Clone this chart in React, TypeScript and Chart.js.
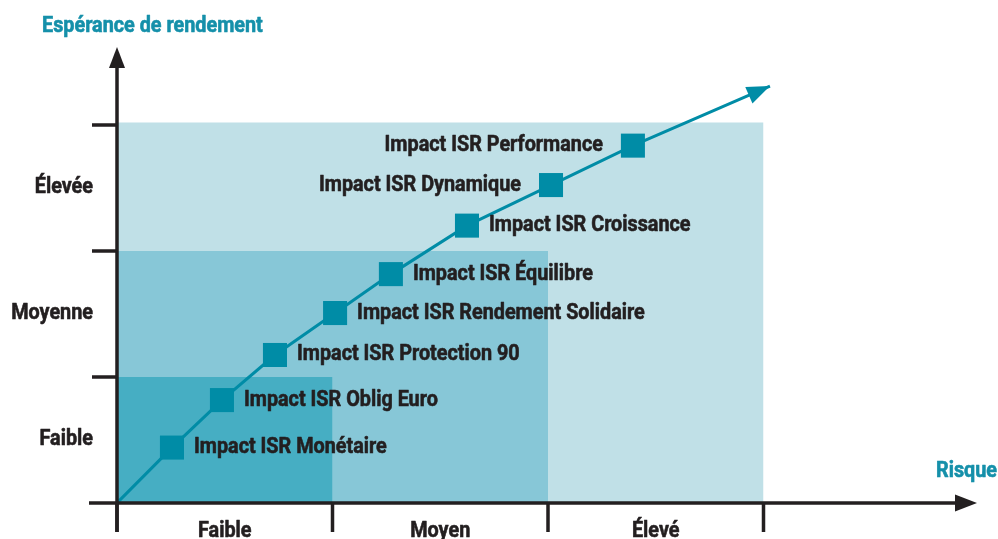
import { useEffect, useRef } from "react";
import { Chart, registerables } from "chart.js";

Chart.register(...registerables);

// ---- Data ----
const fundNames = [
  "Impact ISR Monétaire",
  "Impact ISR Oblig Euro",
  "Impact ISR Protection 90",
  "Impact ISR Rendement Solidaire",
  "Impact ISR Équilibre",
  "Impact ISR Croissance",
  "Impact ISR Dynamique",
  "Impact ISR Performance",
];
const riskValues = [0.255, 0.487, 0.733, 1.012, 1.271, 1.624, 2.014, 2.394];
const returnValues = [0.44, 0.817, 1.175, 1.508, 1.817, 2.202, 2.524, 2.837];
const labelSides = ["right", "right", "right", "right", "right", "right", "left", "left"];
const trendStart = { x: 0, y: 0 };
const trendEnd = { x: 3.03, y: 3.31 };

const riskCategories = ["Faible", "Moyen", "Élevé"];
const returnCategories = ["Faible", "Moyenne", "Élevée"];
const zoneRisk = [1, 2, 3];
const zoneReturn = [1, 2, 3.02];

const xAxisTitle = "Risque";
const yAxisTitle = "Espérance de rendement";

// ---- Styles ----
const TEAL = "#008ca6";
const TITLE_TEAL = "#1590aa";
const DARK = "#231f20";
const zoneColors = ["#46aec3", "#87c7d7", "#c0e0e7"];
const FONT = 'Roboto, "Noto Sans", sans-serif';
const SX = 0.9; // horizontal condensing of the text

function condensedText(
  ctx: CanvasRenderingContext2D,
  text: string,
  x: number,
  y: number,
  align: "left" | "right" | "center"
) {
  ctx.save();
  ctx.translate(x, y);
  ctx.scale(SX, 1);
  ctx.textAlign = align;
  ctx.strokeStyle = ctx.fillStyle as string;
  ctx.lineWidth = 0.6;
  ctx.lineJoin = "round";
  ctx.fillText(text, 0, 0);
  ctx.strokeText(text, 0, 0);
  ctx.restore();
}

const overlayPlugin = {
  id: "overlay",
  afterDatasetsDraw(chart: any) {
    const ctx = chart.ctx as CanvasRenderingContext2D;
    const xs = chart.scales.x;
    const ys = chart.scales.y;
    const x0 = xs.getPixelForValue(0);
    const y0 = ys.getPixelForValue(0);
    const xRight = xs.getPixelForValue(xs.max);
    const yTop = ys.getPixelForValue(ys.max);

    // trend arrow head
    const meta = chart.getDatasetMeta(0);
    const pts = meta.data;
    const pEnd = pts[pts.length - 1];
    const pPrev = pts[pts.length - 2];
    const ang = Math.atan2(pEnd.y - pPrev.y, pEnd.x - pPrev.x);
    ctx.save();
    ctx.fillStyle = TEAL;
    ctx.translate(pEnd.x, pEnd.y);
    ctx.rotate(ang);
    ctx.beginPath();
    ctx.moveTo(0, 0);
    ctx.lineTo(-23, -9);
    ctx.lineTo(-23, 9);
    ctx.closePath();
    ctx.fill();
    ctx.restore();

    // axes
    ctx.save();
    ctx.strokeStyle = DARK;
    ctx.fillStyle = DARK;
    ctx.lineWidth = 3.5;
    ctx.lineCap = "butt";
    ctx.beginPath();
    ctx.moveTo(x0 - 28, y0);
    ctx.lineTo(xRight - 20, y0);
    ctx.moveTo(x0, y0 + 29);
    ctx.lineTo(x0, yTop + 20);
    ctx.stroke();
    ctx.beginPath();
    ctx.moveTo(xRight - 2, y0);
    ctx.lineTo(xRight - 24, y0 - 8.5);
    ctx.lineTo(xRight - 24, y0 + 8.5);
    ctx.closePath();
    ctx.fill();
    ctx.beginPath();
    ctx.moveTo(x0, yTop);
    ctx.lineTo(x0 - 8, yTop + 21);
    ctx.lineTo(x0 + 8, yTop + 21);
    ctx.closePath();
    ctx.fill();
    ctx.beginPath();
    for (let i = 0; i <= riskCategories.length; i++) {
      const px = xs.getPixelForValue(i);
      ctx.moveTo(px, y0);
      ctx.lineTo(px, y0 + 29);
    }
    for (let i = 1; i <= returnCategories.length; i++) {
      const py = ys.getPixelForValue(i);
      ctx.moveTo(x0, py);
      ctx.lineTo(x0 - 25, py);
    }
    ctx.stroke();

    // category labels
    ctx.font = `bold 22px ${FONT}`;
    ctx.textBaseline = "alphabetic";
    riskCategories.forEach((c, i) => {
      condensedText(ctx, c, xs.getPixelForValue(i + 0.5), y0 + 34, "center");
    });
    ctx.textBaseline = "middle";
    returnCategories.forEach((c, i) => {
      condensedText(ctx, c, x0 - 24, ys.getPixelForValue(i + 0.5) - 1, "right");
    });

    // axis titles
    ctx.fillStyle = TITLE_TEAL;
    condensedText(ctx, yAxisTitle, 42, 26, "left");
    condensedText(ctx, xAxisTitle, 997, 471, "right");

    // fund labels
    ctx.fillStyle = DARK;
    ctx.font = `bold 22px ${FONT}`;
    ctx.textBaseline = "middle";
    fundNames.forEach((name, i) => {
      const p = pts[i + 1];
      if (labelSides[i] === "right") {
        condensedText(ctx, name, p.x + 22, p.y, "left");
      } else {
        condensedText(ctx, name, p.x - 30, p.y, "right");
      }
    });
    ctx.restore();
  },
};

export default function App() {
  const ref = useRef<HTMLCanvasElement>(null);
  useEffect(() => {
    if (!ref.current) return;
    const trendData = [
      trendStart,
      ...riskValues.map((x, i) => ({ x, y: returnValues[i] })),
      trendEnd,
    ];
    const radii = trendData.map((_, i) => (i === 0 || i === trendData.length - 1 ? 0 : 17));
    const zoneSets = zoneRisk.map((xr, i) => ({
      type: "line" as const,
      data: [
        { x: 0, y: zoneReturn[i] },
        { x: xr, y: zoneReturn[i] },
      ],
      fill: "origin",
      backgroundColor: zoneColors[i],
      borderColor: "transparent",
      borderWidth: 0,
      pointRadius: 0,
      order: i + 1,
    }));
    const chart = new Chart(ref.current, {
      type: "line",
      data: {
        datasets: [
          {
            data: trendData,
            borderColor: TEAL,
            borderWidth: 3,
            tension: 0,
            pointStyle: "rect",
            pointRadius: radii,
            pointBackgroundColor: TEAL,
            pointBorderWidth: 0,
            pointBorderColor: TEAL,
            fill: false,
            order: 0,
          } as any,
          ...(zoneSets as any[]),
        ],
      },
      options: {
        animation: false,
        responsive: false,
        events: [],
        layout: { padding: { left: 117, top: 47, right: 19, bottom: 36 } },
        scales: {
          x: { type: "linear", min: 0, max: 4, display: false },
          y: { type: "linear", min: 0, max: 3.62, display: false },
        },
        plugins: {
          legend: { display: false },
          tooltip: { enabled: false },
        },
      },
      plugins: [overlayPlugin],
    });
    return () => chart.destroy();
  }, []);
  return (
    <div style={{ position: "fixed", left: 0, top: 0, width: 998, height: 539, background: "#fff" }}>
      <canvas ref={ref} width={998} height={539} style={{ display: "block" }} />
    </div>
  );
}
